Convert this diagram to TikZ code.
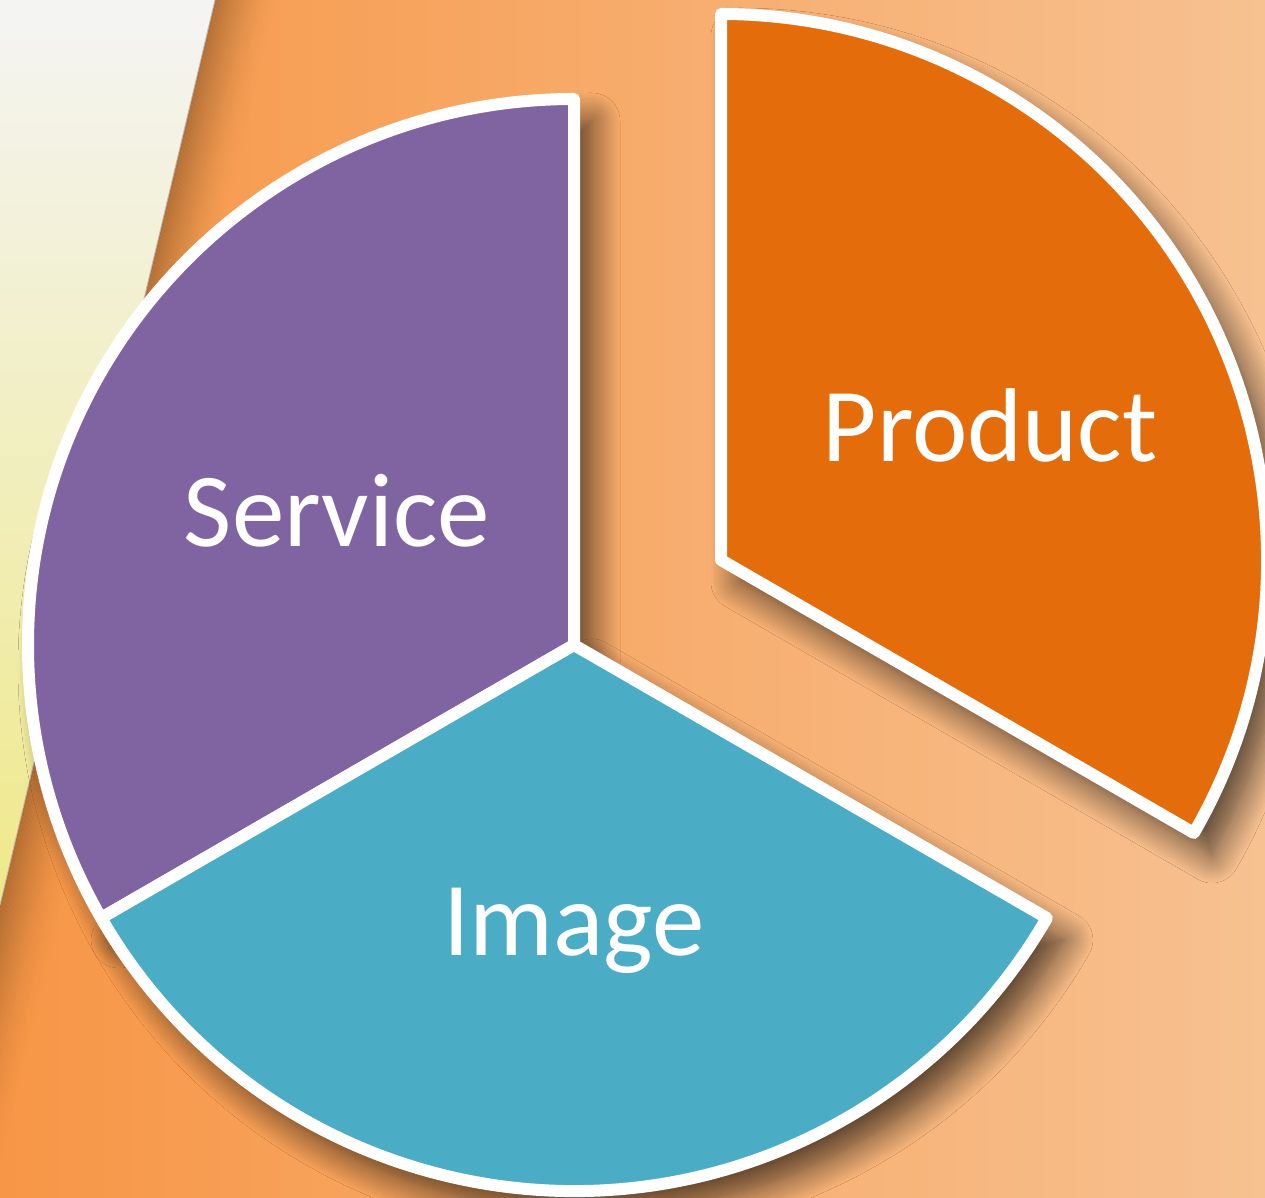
\documentclass[tikz,border=0pt]{standalone}
\usepackage{fontspec}
\setmainfont{Carlito}
\usetikzlibrary{shadows.blur}
\definecolor{bgL}{HTML}{F79646}
\definecolor{bgR}{HTML}{F7C191}
\definecolor{stripTop}{HTML}{F4F4F4}
\definecolor{stripMid}{HTML}{F5F4EA}
\definecolor{stripBot}{HTML}{EFE98A}
\definecolor{edgeShadow}{HTML}{8A5526}
\definecolor{purp}{HTML}{8064A2}
\definecolor{tealc}{HTML}{4BACC6}
\definecolor{prod}{HTML}{E46C0A}
\begin{document}
\begin{tikzpicture}[x=1pt,y=1pt,
  sector/.style={draw=white, line width=12pt, line join=round,
    blur shadow={shadow xshift=18pt, shadow yshift=-22pt, shadow blur radius=28pt, shadow blur steps=14, shadow opacity=66}},
  lbl/.style={text=white, font=\fontsize{105}{120}\selectfont, anchor=base, inner sep=0pt}]
\useasboundingbox (0,0) rectangle (1265,1197);
% background
\shade[left color=bgL, right color=bgR] (0,0) rectangle (1265,1197);
% shadow along the edge of the light strip
\foreach \i in {0,...,24} {
  \pgfmathsetmacro\a{2.4*\i}
  \pgfmathsetmacro\b{2.4*(\i+1)}
  \pgfmathsetmacro\o{0.6*(1-\i/25)^1.6}
  \fill[edgeShadow, opacity=\o]
    ({-93+0.973*\a},{-100-0.232*\a}) -- ({230+0.973*\a},{1260-0.232*\a}) --
    ({230+0.973*\b},{1260-0.232*\b}) -- ({-93+0.973*\b},{-100-0.232*\b}) -- cycle;
}
% light strip
\shade[top color=stripTop, middle color=stripMid, bottom color=stripBot]
  (0,1197) -- (215,1197) -- (0,292) -- cycle;
\draw[gray!55, line width=0.8pt] (0,292) -- (215,1197);
% sectors
\path[sector, fill=purp] (574,552) -- (574,1098) arc[start angle=90, end angle=210, radius=546] -- cycle;
\path[sector, fill=tealc] (574,552) -- ++(210:546) arc[start angle=210, end angle=330, radius=546] -- cycle;
\path[sector, fill=prod] (721,637) -- ++(-30:546) arc[start angle=-30, end angle=90, radius=546] -- cycle;
% labels
\node[lbl] (product) at (990,735) {Product};
\node[lbl] (service) at (337,650) {Service};
\node[lbl] (image) at (574,242) {Image};
\end{tikzpicture}
\end{document}
